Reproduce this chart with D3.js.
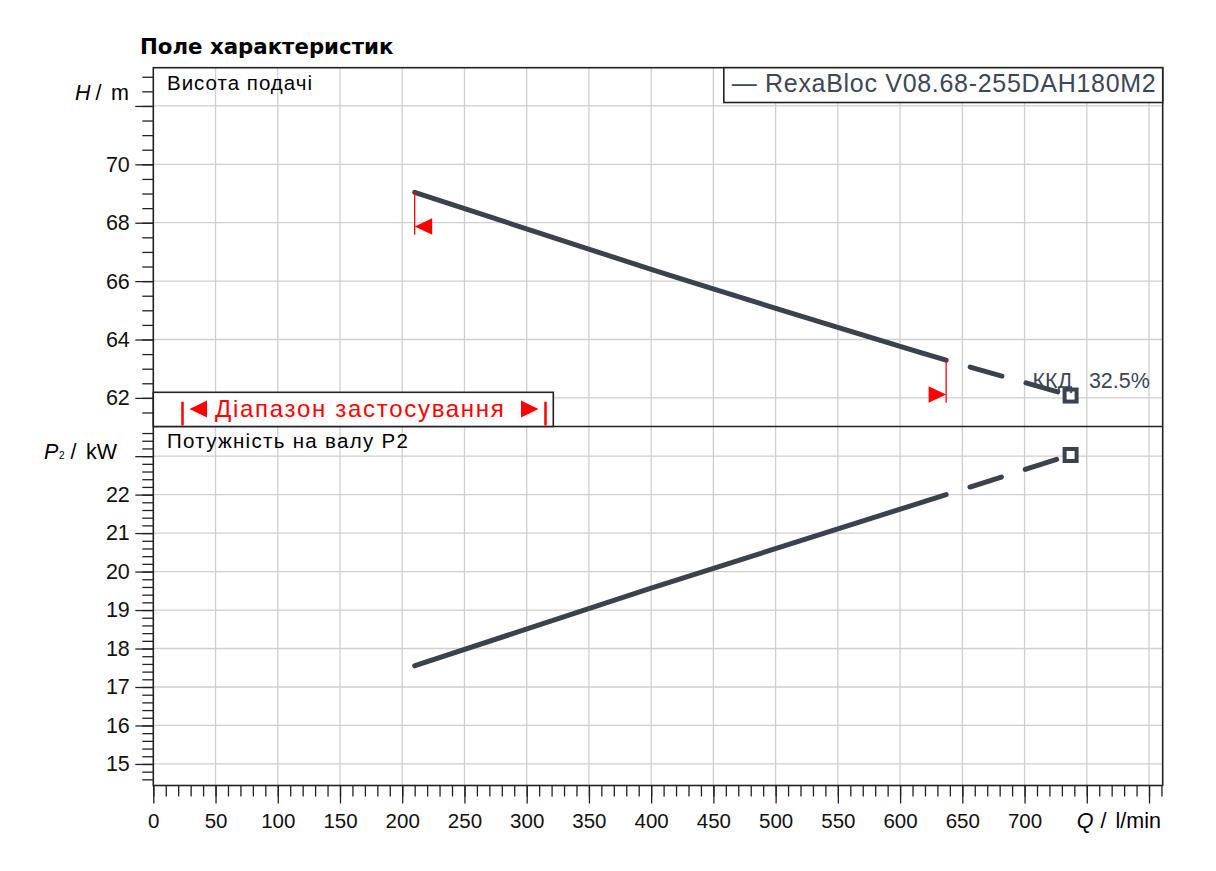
<!DOCTYPE html>
<html>
<head>
<meta charset="utf-8">
<script src="https://cdn.jsdelivr.net/npm/d3@7"></script>
<style>
    body { margin: 0; background: #fff; }
    svg text { font-family: "Liberation Sans", Arial, sans-serif; }
</style>
</head>
<body>
<svg id="drawing_region"></svg>
<script>
// pump curve
const flowSolid = [210, 400, 637];
const headSolid = [69.04, 66.40, 63.29];
const powerSolid = [17.55, 19.57, 22.0];
const flowDashed = [637, 737];
const headDashed = [63.29, 62.08];
const powerDashed = [22.0, 23.03];
const rangeLimits = [210, 637];
const efficiency = 32.5;

// axis ticks
const flowTicks = d3.range(0, 801, 50);
const flowLabels = d3.range(0, 701, 50);
const flowMinor = d3.range(0, 811, 10);
const headTicks = [62, 64, 66, 68, 70, 72];
const headLabels = [62, 64, 66, 68, 70];
const headMinor = d3.range(61.5, 73.1, 0.5);
const powerTicks = [15, 16, 17, 18, 19, 20, 21, 22, 23];
const powerLabels = [15, 16, 17, 18, 19, 20, 21, 22];
const powerMinor = d3.range(14.6, 23.7, 0.2).map(d => Math.round(d * 10) / 10);

const config = {
    width: 1216,
    height: 871,
    left: 153.3,
    right: 1162.7,
    top: 67.7,
    split: 426.5,
    bottom: 785.5,
    curveColor: '#3a434d',
    gridColor: '#cfcfcf',
};

const svg = d3.select('#drawing_region')
    .attr('width', config.width)
    .attr('height', config.height);

const xscale = d3.scaleLinear().domain([0, 811]).range([config.left, config.right]);
const hscale = d3.scaleLinear().domain([61.02, 73.31]).range([config.split, config.top]);
const pscale = d3.scaleLinear().domain([14.44, 23.77]).range([config.bottom, config.split]);

// grid
const grid = svg.append('g');
grid.selectAll('.vgrid')
    .data(flowTicks.filter(d => d > 0))
    .enter().append('line')
    .attr('x1', d => xscale(d)).attr('x2', d => xscale(d))
    .attr('y1', config.top).attr('y2', config.bottom)
    .attr('stroke', config.gridColor).attr('stroke-width', 1.3);
grid.selectAll('.hgrid')
    .data(headTicks)
    .enter().append('line')
    .attr('x1', config.left).attr('x2', config.right)
    .attr('y1', d => hscale(d)).attr('y2', d => hscale(d))
    .attr('stroke', config.gridColor).attr('stroke-width', 1.3);
grid.selectAll('.pgrid')
    .data(powerTicks)
    .enter().append('line')
    .attr('x1', config.left).attr('x2', config.right)
    .attr('y1', d => pscale(d)).attr('y2', d => pscale(d))
    .attr('stroke', config.gridColor).attr('stroke-width', 1.3);

// axes
function styleAxis(g, size) {
    g.select('.domain').remove();
    g.selectAll('line').attr('stroke', '#222').attr('stroke-width', 1.3);
    g.selectAll('text').attr('font-size', size).attr('fill', '#111')
        .style('font-family', '"Liberation Sans", Arial, sans-serif');
}

svg.append('g')
    .attr('transform', `translate(${config.left},0)`)
    .call(d3.axisLeft(hscale).tickValues(headMinor).tickSize(11).tickFormat(''))
    .call(g => styleAxis(g, 21.5));
svg.append('g')
    .attr('transform', `translate(${config.left},0)`)
    .call(d3.axisLeft(hscale).tickValues(headTicks).tickSize(18).tickPadding(5.5)
        .tickFormat(d => headLabels.includes(d) ? d : ''))
    .call(g => styleAxis(g, 21.5));

svg.append('g')
    .attr('transform', `translate(${config.left},0)`)
    .call(d3.axisLeft(pscale).tickValues(powerMinor).tickSize(11).tickFormat(''))
    .call(g => styleAxis(g, 21.5));
svg.append('g')
    .attr('transform', `translate(${config.left},0)`)
    .call(d3.axisLeft(pscale).tickValues(powerTicks).tickSize(18).tickPadding(5.5)
        .tickFormat(d => powerLabels.includes(d) ? d : ''))
    .call(g => styleAxis(g, 21.5));

svg.append('g')
    .attr('transform', `translate(0,${config.bottom})`)
    .call(d3.axisBottom(xscale).tickValues(flowMinor).tickSize(11).tickFormat(''))
    .call(g => styleAxis(g, 20.5));
svg.append('g')
    .attr('transform', `translate(0,${config.bottom})`)
    .call(d3.axisBottom(xscale).tickValues(flowTicks).tickSize(18).tickPadding(10)
        .tickFormat(d => flowLabels.includes(d) ? d : ''))
    .call(g => styleAxis(g, 20.5));

// frame
svg.append('rect')
    .attr('x', config.left).attr('y', config.top)
    .attr('width', config.right - config.left)
    .attr('height', config.bottom - config.top)
    .attr('fill', 'none').attr('stroke', '#222').attr('stroke-width', 1.6);
svg.append('line')
    .attr('x1', config.left).attr('x2', config.right)
    .attr('y1', config.split).attr('y2', config.split)
    .attr('stroke', '#222').attr('stroke-width', 1.6);

// curves
const headLine = d3.line().x(d => xscale(d[0])).y(d => hscale(d[1])).curve(d3.curveMonotoneX);
const powerLine = d3.line().x(d => xscale(d[0])).y(d => pscale(d[1])).curve(d3.curveMonotoneX);

function drawCurve(line, xs, ys, dashed) {
    const path = svg.append('path')
        .attr('d', line(d3.zip(xs, ys)))
        .attr('fill', 'none')
        .attr('stroke', config.curveColor)
        .attr('stroke-width', 5)
        .attr('stroke-linecap', 'round');
    if (dashed) {
        path.attr('stroke-dasharray', '33 25').attr('stroke-dashoffset', 33);
    }
}
drawCurve(headLine, flowSolid, headSolid, false);
drawCurve(headLine, flowDashed, headDashed, true);
drawCurve(powerLine, flowSolid, powerSolid, false);
drawCurve(powerLine, flowDashed, powerDashed, true);

// end markers
const lastFlow = flowDashed[flowDashed.length - 1];
[[hscale, headDashed], [pscale, powerDashed]].forEach(([scale, values]) => {
    svg.append('rect')
        .attr('x', xscale(lastFlow) - 6)
        .attr('y', scale(values[values.length - 1]) - 6)
        .attr('width', 12).attr('height', 12)
        .attr('fill', '#fff')
        .attr('stroke', config.curveColor)
        .attr('stroke-width', 4);
});

svg.append('text')
    .attr('x', xscale(lastFlow) - 38)
    .attr('y', hscale(headDashed[headDashed.length - 1]) - 7.7)
    .attr('font-size', 21.5)
    .attr('fill', '#3d4756')
    .text('ККД');
svg.append('text')
    .attr('x', xscale(lastFlow) + 18.3)
    .attr('y', hscale(headDashed[headDashed.length - 1]) - 7.7)
    .attr('font-size', 21.5)
    .attr('fill', '#3d4756')
    .text(`${efficiency}%`);

// application range markers on the head curve
rangeLimits.forEach((q, i) => {
    const xp = xscale(q);
    const yp = hscale(i === 0 ? headSolid[0] : headSolid[headSolid.length - 1]);
    const yb = yp + 42.5;
    svg.append('line')
        .attr('x1', xp).attr('x2', xp)
        .attr('y1', yp).attr('y2', yb)
        .attr('stroke', '#ff0000').attr('stroke-width', 1.3);
    const dir = i === 0 ? 1 : -1;
    svg.append('path')
        .attr('d', `M${xp},${yb - 8.3} L${xp + dir * 17.5},${yb - 16.6} L${xp + dir * 17.5},${yb} Z`)
        .attr('fill', '#ff0000');
});

// application range box
const box = svg.append('g');
box.append('rect')
    .attr('x', config.left).attr('y', 392.3)
    .attr('width', 400).attr('height', config.split - 392.3)
    .attr('fill', '#fff').attr('stroke', '#222').attr('stroke-width', 1.6);
[182.5, 545.5].forEach(bx => {
    box.append('line')
        .attr('x1', bx).attr('x2', bx).attr('y1', 401.7).attr('y2', 425.5)
        .attr('stroke', '#ff0000').attr('stroke-width', 2.5);
});
box.append('path').attr('d', 'M189.5,409 L207,400.5 L207,417.5 Z').attr('fill', '#ff0000');
box.append('path').attr('d', 'M538.5,409 L521,400.5 L521,417.5 Z').attr('fill', '#ff0000');
box.append('text')
    .attr('x', 215).attr('y', 417)
    .attr('font-size', 24)
    .attr('letter-spacing', 1.7)
    .attr('fill', '#ff0000')
    .text('Діапазон застосування');

// legend
svg.append('rect')
    .attr('x', 723.8).attr('y', config.top)
    .attr('width', config.right - 723.8).attr('height', 34.8)
    .attr('fill', '#fff').attr('stroke', '#222').attr('stroke-width', 1.6);
svg.append('text')
    .attr('x', 731.7).attr('y', 92)
    .attr('font-size', 25)
    .attr('letter-spacing', 0.7)
    .attr('fill', '#3d4756')
    .text('— RexaBloc V08.68-255DAH180M2');

// titles and labels
svg.append('text')
    .attr('x', 140).attr('y', 54)
    .style('font-family', '"DejaVu Sans", Verdana, sans-serif')
    .attr('font-weight', 'bold')
    .attr('font-size', 21.3)
    .attr('fill', '#000')
    .text('Поле характеристик');

svg.append('text')
    .attr('x', 167).attr('y', 90)
    .attr('font-size', 20.5)
    .attr('letter-spacing', 1)
    .text('Висота подачі');
svg.append('text')
    .attr('x', 167).attr('y', 448)
    .attr('font-size', 20.5)
    .attr('letter-spacing', 1.3)
    .text('Потужність на валу  P2');

const hLabel = svg.append('text')
    .attr('y', 100)
    .attr('font-size', 21.5);
hLabel.append('tspan').attr('x', 75).attr('font-style', 'italic').text('H');
hLabel.append('tspan').attr('x', 95.5).text('/');
hLabel.append('tspan').attr('x', 111).text('m');

const pLabel = svg.append('text')
    .attr('y', 458.5)
    .attr('font-size', 21.5);
pLabel.append('tspan').attr('x', 44).attr('font-style', 'italic').text('P');
pLabel.append('tspan').attr('x', 59).attr('font-size', 10).text('2');
pLabel.append('tspan').attr('x', 70.5).text('/');
pLabel.append('tspan').attr('x', 86).text('kW');

const qLabel = svg.append('text')
    .attr('y', 828.3)
    .attr('font-size', 21.5);
qLabel.append('tspan').attr('x', 1076.7).attr('font-style', 'italic').text('Q');
qLabel.append('tspan').attr('x', 1100.5).text('/');
qLabel.append('tspan').attr('x', 1115.5).text('l/min');
</script>
</body>
</html>
